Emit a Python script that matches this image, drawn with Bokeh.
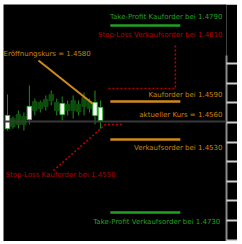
from bokeh.plotting import figure
from bokeh.models import ColumnDataSource, Range1d, LinearAxis, FixedTicker, Span
from bokeh.core.properties import value
from bokeh.embed import file_html
from bokeh.resources import INLINE

# ---- candle data (index, high, low, open, close) ----
idx   = list(range(18))
high  = [1.46143, 1.46031, 1.46061, 1.46051, 1.46189, 1.46122, 1.46112, 1.46138, 1.46163, 1.46122,
         1.46133, 1.46112, 1.46138, 1.46112, 1.46153, 1.46122, 1.46163, 1.46112]
low   = [1.45959, 1.45969, 1.45969, 1.45959, 1.45990, 1.46036, 1.46051, 1.46061, 1.46087, 1.46036,
         1.46010, 1.46036, 1.46020, 1.46036, 1.46036, 1.46051, 1.45990, 1.45969]
open_ = [1.45969, 1.46020, 1.46041, 1.46031, 1.46015, 1.46107, 1.46102, 1.46117, 1.46143, 1.46102,
         1.46041, 1.46092, 1.46112, 1.46092, 1.46128, 1.46107, 1.46036, 1.46010]
close = [1.46036, 1.45980, 1.45990, 1.45990, 1.46082, 1.46061, 1.46071, 1.46082, 1.46112, 1.46061,
         1.46097, 1.46061, 1.46061, 1.46056, 1.46082, 1.46071, 1.46102, 1.46077]

# ---- order levels (horizontal bars) ----
level_price = [1.46495, 1.46107, 1.45913, 1.45541]
level_color = ["#22a022", "#d08a1c", "#d08a1c", "#22a022"]
level_x0 = [18.8, 18.8, 18.8, 18.8]
level_x1 = [31.6, 31.6, 31.6, 31.6]

# ---- connector paths ----
open_line_x = [5.67, 15.54]
open_line_y = [1.46316, 1.46097]
sl_sell_x = [18.46, 30.7, 30.7]
sl_sell_y = [1.46173, 1.46173, 1.46393]
sl_buy_x = [8.4, 17.9, 21.2]
sl_buy_y = [1.45755, 1.45990, 1.45990]
current_price = 1.46005

# ---- labels ----
right_labels = ["Take-Profit Kauforder bei 1.4790", "Stop-Loss Verkaufsorder bei 1.4610",
                "Kauforder bei 1.4590", "aktueller Kurs = 1.4560",
                "Verkaufsorder bei 1.4530", "Take-Profit Verkaufsorder bei 1.4730"]
right_x = [39.3, 39.3, 39.3, 39.3, 39.3, 38.9]
right_y = [1.46536, 1.46444, 1.46138, 1.46036, 1.45872, 1.45495]
right_color = ["#22a022", "#b40000", "#c8840e", "#c8840e", "#c8840e", "#22a022"]
left_labels = ["Eröffnungskurs = 1.4580", "Stop-Loss Kauforder bei 1.4550"]
left_x = [-0.73, -0.36]
left_y = [1.46347, 1.45730]
left_color = ["#c8840e", "#b40000"]

axis_ticks = [1.4630, 1.4620, 1.4610, 1.4600, 1.4590, 1.4580, 1.4570, 1.4560, 1.4550, 1.4540]

p = figure(frame_width=223, frame_height=237,
           x_range=Range1d(-0.73, 40.04), y_range=Range1d(1.45393, 1.46602),
           x_axis_type=None, y_axis_type=None,
           output_backend="svg", toolbar_location=None,
           background_fill_color="black", border_fill_color="black",
           outline_line_color=None, min_border=0)
p.margin = (4, 0, 0, 3)
p.grid.visible = False

ax = LinearAxis(ticker=FixedTicker(ticks=axis_ticks), bounds=(1.45393, 1.4634),
                axis_line_color="#8a8a8a", axis_line_width=2,
                major_tick_out=11, major_tick_in=0,
                major_tick_line_color="#d0d0d0", major_tick_line_width=2,
                minor_tick_line_color=None, major_label_standoff=0,
                major_label_overrides={t: "" for t in axis_ticks})
p.add_layout(ax, "right")

p.add_layout(Span(location=current_price, dimension="width",
                  line_color="#383838", line_width=2))

bull = [c > o for o, c in zip(open_, close)]
src = ColumnDataSource(dict(
    x=idx, high=high, low=low,
    top=[max(o, c) for o, c in zip(open_, close)],
    bottom=[min(o, c) for o, c in zip(open_, close)],
    fill=["#ffffff" if b else "#0c4f0c" for b in bull],
    line=["#3fbf3f" if b else "#0c4f0c" for b in bull],
))
p.segment(x0="x", y0="high", x1="x", y1="low", source=src, line_color="#1c8c1c", line_width=1)
p.vbar(x="x", top="top", bottom="bottom", width=0.8, source=src,
       fill_color="fill", line_color="line", line_width=1)

p.segment(x0=level_x0, y0=level_price, x1=level_x1, y1=level_price,
          line_color=level_color, line_width=2.5)

p.line(open_line_x, open_line_y, line_color="#d08a1c", line_width=2)
p.line(sl_sell_x, sl_sell_y, line_color="#c00000", line_width=1.5, line_dash="2 2")
p.line(sl_buy_x, sl_buy_y, line_color="#c00000", line_width=1.5, line_dash="2 2")

p.text(x=right_x, y=right_y, text=right_labels, text_color=right_color,
       text_align="right", text_baseline="middle",
       text_font=value("DejaVu Sans"), text_font_size=value("7px"))
p.text(x=left_x, y=left_y, text=left_labels, text_color=left_color,
       text_align="left", text_baseline="middle",
       text_font=value("DejaVu Sans"), text_font_size=value("7px"))

open("out.html", "w").write(file_html(p, INLINE))
